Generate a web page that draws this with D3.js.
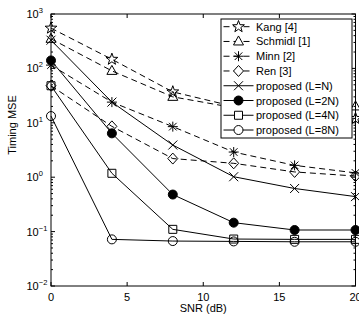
<!DOCTYPE html>
<html>
<head>
<meta charset="utf-8">
<script src="https://cdn.jsdelivr.net/npm/d3@7"></script>
<style>
  body { margin: 0; background: #fff; }
  svg { display: block; font-family: "Liberation Sans", Arial, sans-serif; }
  text { fill: #000; }
</style>
</head>
<body>
<div id="chart"></div>
<script>
// SNR points (dB)
var snr = [0, 4, 8, 12, 16, 20];

var kang    = [550, 147, 37, 20, 15, 12];
var schmidl = [350, 90, 30, 19, 19, 20];
var minn    = [115, 24, 8.5, 2.9, 1.65, 1.2];
var ren     = [48, 8.6, 2.2, 1.8, 1.25, 1.05];
var propN   = [330, 24, 3.9, 1.02, 0.62, 0.44];
var prop2N  = [140, 6.4, 0.48, 0.146, 0.107, 0.107];
var prop4N  = [48, 1.18, 0.11, 0.073, 0.072, 0.072];
var prop8N  = [13.3, 0.072, 0.067, 0.066, 0.065, 0.065];

var seriesNames = ["Kang [4]", "Schmidl [1]", "Minn [2]", "Ren [3]",
                   "proposed (L=N)", "proposed (L=2N)", "proposed (L=4N)", "proposed (L=8N)"];
var seriesValues = [kang, schmidl, minn, ren, propN, prop2N, prop4N, prop8N];
var seriesMarkers = ["star", "triangle", "asterisk", "diamond", "x", "dot", "square", "circle"];
var seriesDashed = [true, true, true, true, false, false, false, false];

var xTicks = [0, 5, 10, 15, 20];
var yExponents = [3, 2, 1, 0, -1, -2];

var width = 359, height = 320;
var margin = {top: 14, right: 3.5, bottom: 34, left: 51};

var x = d3.scaleLinear().domain([0, 20]).range([margin.left, width - margin.right]),
    y = d3.scaleLog().domain([1e-2, 1e3]).range([height - margin.bottom, margin.top]);

var svg = d3.select("#chart").append("svg")
    .attr("width", width)
    .attr("height", height);

// marker path strings
function markerPath(type) {
    var p = d3.path(), i, a, r;
    if (type === "star") {
        for (i = 0; i < 10; i++) {
            a = -Math.PI / 2 + i * Math.PI / 5;
            r = (i % 2 === 0) ? 6.2 : 2.5;
            if (i === 0) p.moveTo(r * Math.cos(a), r * Math.sin(a));
            else p.lineTo(r * Math.cos(a), r * Math.sin(a));
        }
        p.closePath();
    } else if (type === "triangle") {
        p.moveTo(0, -5.5); p.lineTo(5, 3.5); p.lineTo(-5, 3.5); p.closePath();
    } else if (type === "diamond") {
        p.moveTo(0, -5.5); p.lineTo(5, 0); p.lineTo(0, 5.5); p.lineTo(-5, 0); p.closePath();
    } else if (type === "square") {
        p.rect(-4, -4, 8, 8);
    } else if (type === "circle" || type === "dot") {
        p.arc(0, 0, 4.5, 0, 2 * Math.PI);
    } else if (type === "x") {
        p.moveTo(-4.5, -4.5); p.lineTo(4.5, 4.5); p.moveTo(4.5, -4.5); p.lineTo(-4.5, 4.5);
    } else if (type === "asterisk") {
        p.moveTo(-5, 0); p.lineTo(5, 0); p.moveTo(0, -5); p.lineTo(0, 5);
        p.moveTo(-3.8, -3.8); p.lineTo(3.8, 3.8); p.moveTo(3.8, -3.8); p.lineTo(-3.8, 3.8);
    }
    return p.toString();
}

var line = d3.line()
    .x(function(d) { return x(d[0]); })
    .y(function(d) { return y(d[1]); });

var plot = svg.append("g").attr("class", "plot");

seriesValues.forEach(function(vals, k) {
    var pts = snr.map(function(s, i) { return [s, vals[i]]; });
    var g = plot.append("g");
    g.append("path")
        .datum(pts)
        .attr("d", line)
        .attr("fill", "none")
        .attr("stroke", "#000")
        .attr("stroke-width", 1)
        .attr("stroke-dasharray", seriesDashed[k] ? "6,4" : null);
    g.selectAll("path.mk")
        .data(pts)
        .enter().append("path")
        .attr("class", "mk")
        .attr("transform", function(d) { return "translate(" + x(d[0]) + "," + y(d[1]) + ")"; })
        .attr("d", markerPath(seriesMarkers[k]))
        .attr("fill", seriesMarkers[k] === "dot" ? "#000" : "none")
        .attr("stroke", "#000")
        .attr("stroke-width", 1);
});

// axes box and ticks (inward, MATLAB style)
var x0 = x.range()[0], x1 = x.range()[1], y0 = y.range()[0], y1 = y.range()[1];

var axes = svg.append("g").attr("class", "axes");

axes.append("rect")
    .attr("x", x0).attr("y", y1)
    .attr("width", x1 - x0).attr("height", y0 - y1)
    .attr("fill", "none").attr("stroke", "#000").attr("stroke-width", 1);

xTicks.forEach(function(t) {
    axes.append("line").attr("x1", x(t)).attr("x2", x(t)).attr("y1", y0).attr("y2", y0 - 4)
        .attr("stroke", "#000");
    axes.append("line").attr("x1", x(t)).attr("x2", x(t)).attr("y1", y1).attr("y2", y1 + 4)
        .attr("stroke", "#000");
    axes.append("text")
        .attr("x", x(t)).attr("y", y0 + 15)
        .attr("text-anchor", "middle")
        .attr("font-size", 11)
        .text(t);
});

var minor = [];
for (var e = -2; e < 3; e++) {
    for (var m = 2; m < 10; m++) minor.push(m * Math.pow(10, e));
}
minor.forEach(function(v) {
    axes.append("line").attr("x1", x0).attr("x2", x0 + 2).attr("y1", y(v)).attr("y2", y(v))
        .attr("stroke", "#000");
    axes.append("line").attr("x1", x1).attr("x2", x1 - 2).attr("y1", y(v)).attr("y2", y(v))
        .attr("stroke", "#000");
});

yExponents.forEach(function(ex) {
    var v = Math.pow(10, ex);
    axes.append("line").attr("x1", x0).attr("x2", x0 + 4).attr("y1", y(v)).attr("y2", y(v))
        .attr("stroke", "#000");
    axes.append("line").attr("x1", x1).attr("x2", x1 - 4).attr("y1", y(v)).attr("y2", y(v))
        .attr("stroke", "#000");
    var t = axes.append("text")
        .attr("x", 26.5).attr("y", y(v) + 4)
        .attr("font-size", 11);
    t.append("tspan").text("10");
    t.append("tspan").attr("dy", -5).attr("font-size", 7.5)
        .text(ex < 0 ? "\u2212" + (-ex) : String(ex));
});

svg.append("text")
    .attr("x", (x0 + x1) / 2).attr("y", 312)
    .attr("text-anchor", "middle")
    .attr("font-size", 11)
    .text("SNR (dB)");

svg.append("text")
    .attr("transform", "translate(16,125) rotate(-90)")
    .attr("text-anchor", "middle")
    .attr("font-size", 11)
    .text("Timing MSE");

// legend
var legend = svg.append("g").attr("class", "legend");
legend.append("rect")
    .attr("x", 221).attr("y", 19)
    .attr("width", 131).attr("height", 119)
    .attr("fill", "#fff").attr("stroke", "#000").attr("stroke-width", 1);

seriesNames.forEach(function(name, k) {
    var ly = 26.7 + k * 14.76;
    legend.append("line")
        .attr("x1", 223.5).attr("x2", 253.5).attr("y1", ly).attr("y2", ly)
        .attr("stroke", "#000")
        .attr("stroke-dasharray", seriesDashed[k] ? "6,4" : null);
    legend.append("path")
        .attr("transform", "translate(238.5," + ly + ")")
        .attr("d", markerPath(seriesMarkers[k]))
        .attr("fill", seriesMarkers[k] === "dot" ? "#000" : "#fff")
        .attr("stroke", "#000");
    legend.append("text")
        .attr("x", 256).attr("y", ly + 4)
        .attr("font-size", 11)
        .text(name);
});
</script>
</body>
</html>
